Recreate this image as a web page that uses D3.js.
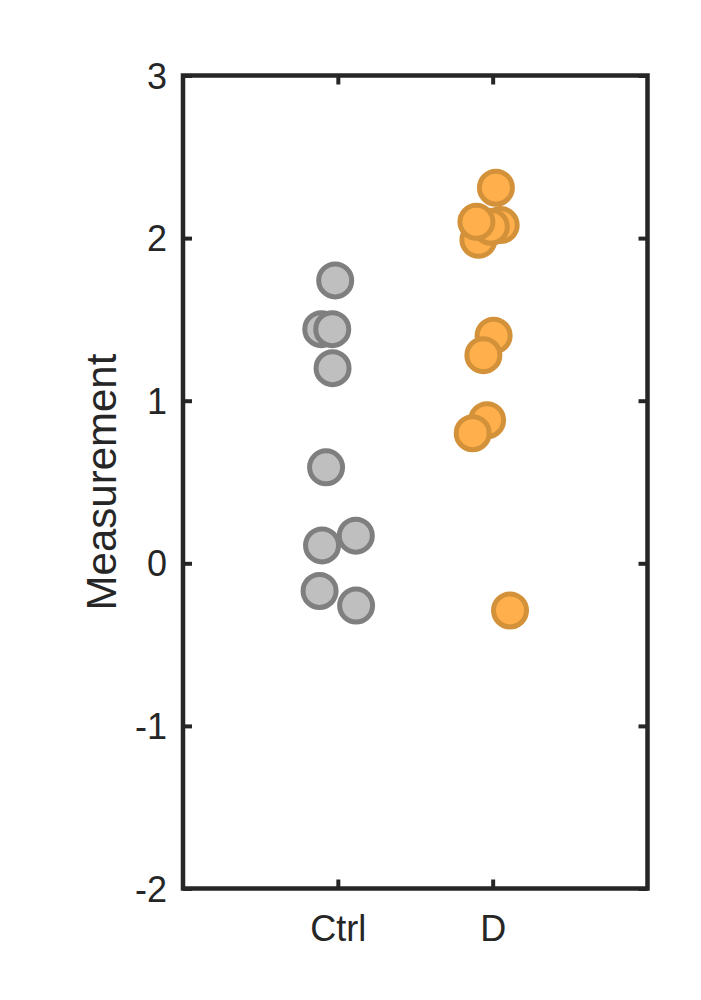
<!DOCTYPE html>
<html>
<head>
<meta charset="utf-8">
<script src="https://cdn.jsdelivr.net/npm/d3@7"></script>
<style>
html,body{margin:0;padding:0;background:#fff;}
text{font-family:"Liberation Sans",Arial,sans-serif;fill:#262626;}
</style>
</head>
<body>
<svg id="chart" width="701" height="1000"></svg>
<script>
// ---- data ----
const categories = ["Ctrl", "D"];
const yTicks = [-2, -1, 0, 1, 2, 3];
const ctrlValues = [1.74, 1.44, 1.44, 1.20, 0.59, 0.17, 0.11, -0.17, -0.26];
const ctrlJitter = [-0.017, -0.107, -0.036, -0.034, -0.076, 0.116, -0.102, -0.118, 0.118];
const dValues = [2.31, 2.08, 1.99, 2.07, 2.10, 1.40, 1.28, 0.88, 0.80, -0.29];
const dJitter = [0.021, 0.052, -0.092, -0.012, -0.105, 0.006, -0.060, -0.036, -0.129, 0.112];
const yLabel = "Measurement";

// ---- layout ----
const svg = d3.select("#chart");
const L = 183, R = 647.5, T = 75.5, B = 888.5;
const x = d3.scaleLinear().domain([0, 3]).range([L, R]);
const y = d3.scaleLinear().domain([-2, 3]).range([B, T]);
const ink = "#262626";
const tickLen = 9;
const fontSize = 36;
const labelSize = 42;

// ticks (inward on all sides)
const gAxes = svg.append("g");
const yAxisL = d3.axisLeft(y).tickValues(yTicks).tickSize(-tickLen).tickPadding(16).tickFormat(d => String(d));
const yAxisR = d3.axisRight(y).tickValues(yTicks).tickSize(-tickLen).tickFormat("");
const xAxisB = d3.axisBottom(x).tickValues([1, 2]).tickSize(-tickLen).tickPadding(26).tickFormat((d) => categories[d - 1]);
const xAxisT = d3.axisTop(x).tickValues([1, 2]).tickSize(-tickLen).tickFormat("");

function style(g) {
  g.select(".domain").remove();
  g.selectAll(".tick line").attr("stroke", ink).attr("stroke-width", 4);
  g.selectAll(".tick text").attr("font-size", fontSize).attr("fill", ink)
    .style("font-family", '"Liberation Sans", Arial, sans-serif');
}
const gL = gAxes.append("g").attr("transform", `translate(${L},0)`).call(yAxisL).call(style);
gAxes.append("g").attr("transform", `translate(${R},0)`).call(yAxisR).call(style);
const gB = gAxes.append("g").attr("transform", `translate(0,${B})`).call(xAxisB).call(style);
gAxes.append("g").attr("transform", `translate(0,${T})`).call(xAxisT).call(style);
gAxes.selectAll("text").attr("dy", null);
gL.selectAll(".tick text").attr("dominant-baseline", "central");
gB.selectAll(".tick text").attr("dominant-baseline", "hanging");

// frame
svg.append("rect").attr("x", L).attr("y", T).attr("width", R - L).attr("height", B - T)
  .attr("fill", "none").attr("stroke", ink).attr("stroke-width", 4.5);

// points
const groups = [
  { vals: ctrlValues, jit: ctrlJitter, pos: 1, fill: "#BFBFBF", stroke: "#7F7F7F" },
  { vals: dValues, jit: dJitter, pos: 2, fill: "#FFB04C", stroke: "#D3923A" }
];
groups.forEach(gp => {
  svg.append("g").selectAll("circle").data(gp.vals).join("circle")
    .attr("cx", (d, i) => x(gp.pos + gp.jit[i]))
    .attr("cy", d => y(d))
    .attr("r", 16.5)
    .attr("fill", gp.fill)
    .attr("stroke", gp.stroke)
    .attr("stroke-width", 5);
});

// y label
svg.append("text")
  .attr("transform", `translate(101,${(T + B) / 2}) rotate(-90)`)
  .attr("text-anchor", "middle")
  .attr("dominant-baseline", "central")
  .attr("font-size", labelSize)
  .text(yLabel);
</script>
</body>
</html>
